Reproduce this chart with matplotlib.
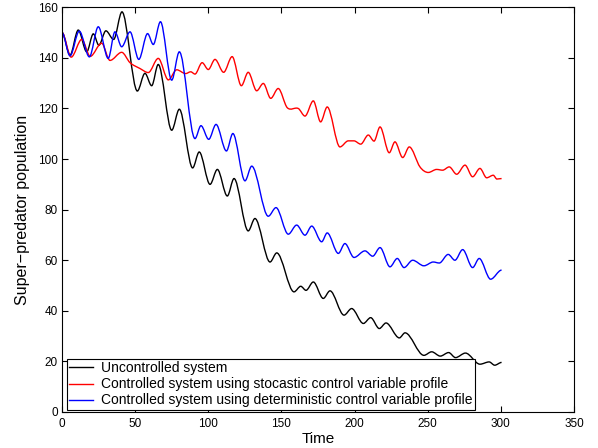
import numpy as np
import matplotlib
matplotlib.use('Agg')
import matplotlib.pyplot as plt
from matplotlib.path import Path
from matplotlib.patches import PathPatch

plt.rcParams['font.family'] = ['Liberation Sans', 'DejaVu Sans']

# peaks / troughs (time, population)
t_unc = [0, 5.5, 11.1, 16.9, 21.4, 25.2, 30.0, 35.3, 41.0, 51.5, 56.7, 61.3, 65.8, 75.0, 80.2,
         89.3, 93.8, 101.2, 106.2, 113.0, 117.6, 127.3, 131.9, 142.2, 146.8, 158.6, 163.2, 166.8,
         171.8, 178.6, 183.2, 192.8, 198.0, 206.0, 211.0, 216.9, 221.5, 230.6, 234.5, 247.4, 252.7,
         258.6, 264.3, 269.0, 275.8, 285.7, 292.0, 295.8, 300.5]
y_unc = [150, 141.1, 151.0, 142.4, 149.5, 145.0, 150.7, 147.3, 158.2, 126.9, 133.9, 129.0, 137.4, 111.4, 119.7,
         96.5, 102.8, 90.0, 95.9, 85.4, 92.3, 71.6, 76.5, 59.3, 62.9, 47.5, 49.7, 48.1,
         51.4, 44.9, 47.9, 38.3, 40.9, 35.0, 37.3, 33.0, 35.2, 29.3, 31.3, 22.4, 23.8,
         22.1, 23.5, 21.5, 23.3, 18.9, 19.8, 18.5, 19.6]

t_sto = [0, 6.3, 13.5, 19.3, 27.1, 32.8, 40.8, 46.5, 53.3, 59.0, 65.8, 72.7, 78.4, 84.5, 88.0, 90.9,
         95.8, 100.0, 104.6, 110.5, 116.3, 122.6, 127.3, 133.1, 137.6, 142.7, 147.8, 154.0, 161.5,
         166.1, 171.8, 176.8, 181.3, 190.0, 195.7, 199.6, 204.2, 209.4, 213.3, 217.4, 223.7, 227.6,
         232.9, 237.4, 244.7, 250.4, 256.1, 260.2, 264.7, 269.8, 275.5, 280.7, 285.7, 290.3, 294.8,
         297.3, 300.5]
y_sto = [150, 140.3, 147.3, 140.6, 145.8, 139.0, 142.2, 138.1, 135.8, 134.2, 139.8, 131.3, 135.3, 133.8, 134.5, 133.6,
         138.1, 135.4, 139.4, 134.3, 140.5, 129.0, 134.3, 127.0, 129.9, 124.0, 127.9, 120.3, 120.0,
         117.0, 123.0, 114.7, 120.6, 104.8, 107.2, 107.2, 105.9, 109.5, 107.1, 112.7, 102.5, 106.8,
         100.6, 104.8, 96.9, 94.7, 95.9, 95.6, 96.9, 94.0, 97.6, 93.0, 96.3, 92.6, 93.6,
         92.1, 92.3]

t_det = [0, 5.5, 11.8, 18.7, 24.8, 31.6, 36.2, 40.8, 46.5, 52.5, 58.5, 62.4, 67.3, 75.0, 80.2,
         90.9, 95.0, 100.3, 105.3, 112.4, 116.8, 125.1, 129.7, 141.0, 146.3, 154.7, 160.4, 166.1,
         170.7, 177.5, 181.3, 188.9, 193.4, 199.6, 207.1, 212.4, 217.4, 224.2, 229.2, 233.8, 239.7,
         247.4, 253.8, 257.9, 264.0, 268.6, 273.9, 280.7, 285.2, 293.0, 300.5]
y_det = [150, 140.8, 150.6, 140.4, 152.3, 139.8, 150.3, 144.4, 150.3, 139.4, 149.6, 145.3, 154.3, 131.2, 142.4,
         108.1, 113.2, 107.8, 113.7, 103.2, 110.1, 91.4, 97.2, 77.4, 80.8, 70.3, 73.9, 69.9,
         73.5, 67.3, 70.8, 62.7, 66.6, 61.1, 63.7, 61.6, 65.0, 57.4, 60.7, 57.1, 60.0,
         57.8, 59.3, 58.9, 62.3, 60.0, 64.2, 57.1, 60.7, 52.5, 56.1]

labels = ['Uncontrolled system',
          'Controlled system using stocastic control variable profile',
          'Controlled system using deterministic control variable profile']
colors = ['k', 'r', 'b']


def smooth_path(t, y):
    # hermite curve through the read points, flat at peaks and troughs
    t = np.asarray(t, float)
    y = np.asarray(y, float)
    n = len(t)
    m = np.zeros(n)
    for i in range(1, n - 1):
        if (y[i] - y[i - 1]) * (y[i + 1] - y[i]) > 0:
            m[i] = (y[i + 1] - y[i - 1]) / (t[i + 1] - t[i - 1])
    verts = [(t[0], y[0])]
    codes = [Path.MOVETO]
    for i in range(n - 1):
        d = t[i + 1] - t[i]
        verts += [(t[i] + d / 3, y[i] + m[i] * d / 3),
                  (t[i + 1] - d / 3, y[i + 1] - m[i + 1] * d / 3),
                  (t[i + 1], y[i + 1])]
        codes += [Path.CURVE4] * 3
    return Path(verts, codes)


fig = plt.figure(figsize=(5.98, 4.48), dpi=100)
ax = fig.add_axes([62 / 598, 1 - 412 / 448, 512 / 598, 404.7 / 448])

series = [(t_unc, y_unc), (t_sto, y_sto), (t_det, y_det)]
for (t, y), c, lab in zip(series, colors, labels):
    ax.add_patch(PathPatch(smooth_path(t, y), facecolor='none', edgecolor=c, lw=1.0))
    ax.plot([], [], color=c, lw=1.0, label=lab)

ax.set_xlim(0, 350)
ax.set_ylim(0, 160)
ax.set_xticks(np.arange(0, 351, 50))
ax.set_yticks(np.arange(0, 161, 20))
ax.tick_params(direction='in', length=4, width=0.8, top=True, right=True, labelsize=8.5)
ax.tick_params(axis='x', pad=4)
ax.tick_params(axis='y', pad=3)
for s in ax.spines.values():
    s.set_linewidth(0.8)

ax.set_xlabel('Time', fontsize=11, labelpad=2)
ax.set_ylabel('Super\u2212predator population', fontsize=11.5, labelpad=6)

leg = ax.legend(loc='lower left', bbox_to_anchor=(0.0098, 0.006), borderaxespad=0,
                fancybox=False, framealpha=1, edgecolor='k', fontsize=10,
                labelspacing=0.15, borderpad=0.15, handlelength=1.7, handletextpad=0.6)
leg.get_frame().set_linewidth(0.8)

fig.savefig('out.png', dpi=100)
